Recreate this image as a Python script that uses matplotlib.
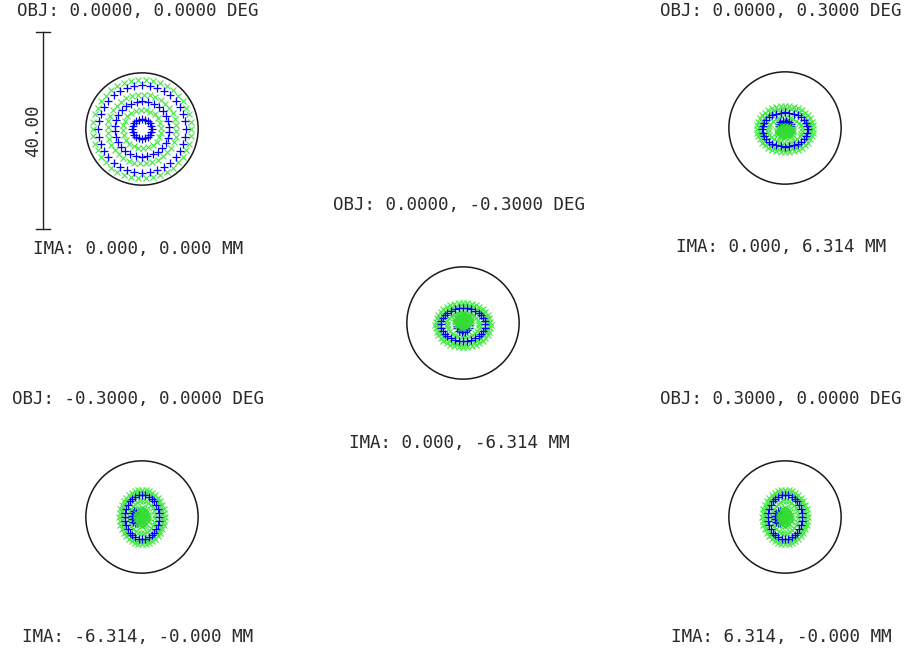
import numpy as np
import matplotlib
matplotlib.use("Agg")
import matplotlib.pyplot as plt
from matplotlib.patches import Circle

# field labels
obj_labels = ["OBJ: 0.0000, 0.0000 DEG", "OBJ: 0.0000, 0.3000 DEG", "OBJ: 0.0000, -0.3000 DEG",
              "OBJ: -0.3000, 0.0000 DEG", "OBJ: 0.3000, 0.0000 DEG"]
ima_labels = ["IMA: 0.000, 0.000 MM", "IMA: 0.000, 6.314 MM", "IMA: 0.000, -6.314 MM",
              "IMA: -6.314, -0.000 MM", "IMA: 6.314, -0.000 MM"]
scale_um = 40.0
airy_um = 11.4

# spot rings per field, in um: semi-x, semi-y, y offset, number of rays
# field 1 (on axis)
f1_green = [(10.0, 10.0, 0.0, 42), (7.0, 7.0, 0.0, 36), (3.9, 3.9, 0.0, 24)]
f1_blue = [(8.9, 8.9, 0.0, 36), (5.6, 5.6, 0.0, 30), (2.0, 2.0, 0.0, 20)]
# field 2 (0, +0.3)
f2_green = [(5.7, 4.7, -0.2, 40), (5.1, 4.1, -0.2, 36), (3.4, 2.6, -0.4, 28),
            (1.7, 1.1, -0.7, 18), (1.1, 0.7, -0.7, 12), (0.5, 0.3, -0.7, 6)]
f2_blue = [(4.6, 3.5, -0.3, 32), (1.3, 0.9, 0.6, 12), (0.6, 0.4, 0.7, 6)]
# field 3 (0, -0.3)
f3_green = [(5.6, 4.5, -0.4, 40), (5.0, 3.9, -0.4, 36), (3.3, 2.5, -0.3, 28),
            (1.6, 1.4, 0.4, 18), (1.0, 0.9, 0.4, 12), (0.4, 0.4, 0.4, 6)]
f3_blue = [(4.5, 3.4, -0.3, 32), (1.2, 1.0, -0.8, 12), (0.6, 0.5, -0.9, 6)]
# field 4 (-0.3, 0)
f4_green = [(4.6, 5.5, 0.0, 40), (4.1, 4.9, 0.0, 36), (2.6, 3.3, 0.0, 28),
            (1.3, 1.8, 0.0, 18), (0.8, 1.1, 0.0, 12), (0.3, 0.4, 0.0, 6)]
f4_blue = [(3.5, 4.5, 0.0, 32), (0.8, 1.3, 0.0, 12), (0.4, 0.6, 0.0, 6)]
# field 5 (+0.3, 0)
f5_green = [(4.6, 5.5, 0.0, 40), (4.1, 4.9, 0.0, 36), (2.6, 3.3, 0.0, 28),
            (1.3, 1.8, 0.0, 18), (0.8, 1.1, 0.0, 12), (0.3, 0.4, 0.0, 6)]
f5_blue = [(3.5, 4.5, 0.0, 32), (0.8, 1.3, 0.0, 12), (0.4, 0.6, 0.0, 6)]
# x shift of blue core relative to green core (um)
blue_core_dx = [0.0, 0.0, 0.0, -1.3, -1.2]

green_sets = [f1_green, f2_green, f3_green, f4_green, f5_green]
blue_sets = [f1_blue, f2_blue, f3_blue, f4_blue, f5_blue]

W, H = 907, 652
px_per_um = 4.925
centers = [(142, 129), (785, 128), (463, 323), (142, 517), (785, 517)]
half = 75
core_lim = 2.0  # rings smaller than this form the central blob

fig = plt.figure(figsize=(W / 100, H / 100), dpi=100)
bg = fig.add_axes([0, 0, 1, 1])
bg.set_xlim(0, W)
bg.set_ylim(H, 0)
bg.axis("off")

font = dict(family="DejaVu Sans Mono", fontsize=12.6, color="#2a2a2a")


def ring_pts(rings, core, core_dx=0.0):
    xs, ys = [], []
    for k, (a, b, dy, n) in enumerate(rings):
        if (a < core_lim) != core:
            continue
        t = np.linspace(0, 2 * np.pi, n, endpoint=False) + 0.3 * k
        xs.append(a * np.cos(t) + core_dx)
        ys.append(b * np.sin(t) + dy)
    if not xs:
        return np.array([]), np.array([])
    return np.concatenate(xs), np.concatenate(ys)


for i, (cx, cy) in enumerate(centers):
    ax = fig.add_axes([(cx - half) / W, 1 - (cy + half) / H, 2 * half / W, 2 * half / H])
    lim = half / px_per_um
    ax.set_xlim(-lim, lim)
    ax.set_ylim(-lim, lim)
    ax.axis("off")
    ax.add_patch(Circle((0, 0), airy_um, fill=False, ec="#1a1a1a", lw=1.1))
    big = i == 0
    gms, bms = (5.0, 6.0) if big else (4.2, 5.2)
    gx, gy = ring_pts(green_sets[i], False)
    ax.plot(gx, gy, "x", color="#44e844", ms=gms, mew=0.8)
    bx, by = ring_pts(blue_sets[i], False)
    ax.plot(bx, by, "+", color="#0000ff", ms=bms, mew=0.9)
    bx, by = ring_pts(blue_sets[i], True, blue_core_dx[i])
    ax.plot(bx, by, "+", color="#0000ff", ms=bms, mew=0.9)
    gx, gy = ring_pts(green_sets[i], True)
    ax.plot(gx, gy, "x", color="#33dd33", ms=gms, mew=0.9)
    bg.text(cx - 4, cy - 117.5, obj_labels[i], ha="center", va="center", **font)
    bg.text(cx - 4, cy + 119.5, ima_labels[i], ha="center", va="center", **font)

# scale bar
bar_x, bar_top = 43, 32
bar_len = scale_um * px_per_um
bg.plot([bar_x, bar_x], [bar_top, bar_top + bar_len], color="#222222", lw=1.0)
for yy in (bar_top, bar_top + bar_len):
    bg.plot([bar_x - 7, bar_x + 7], [yy, yy], color="#222222", lw=1.0)
bg.text(33, bar_top + bar_len / 2, f"{scale_um:.2f}", rotation=90, ha="center", va="center", **font)

fig.savefig("out.png", dpi=100)
